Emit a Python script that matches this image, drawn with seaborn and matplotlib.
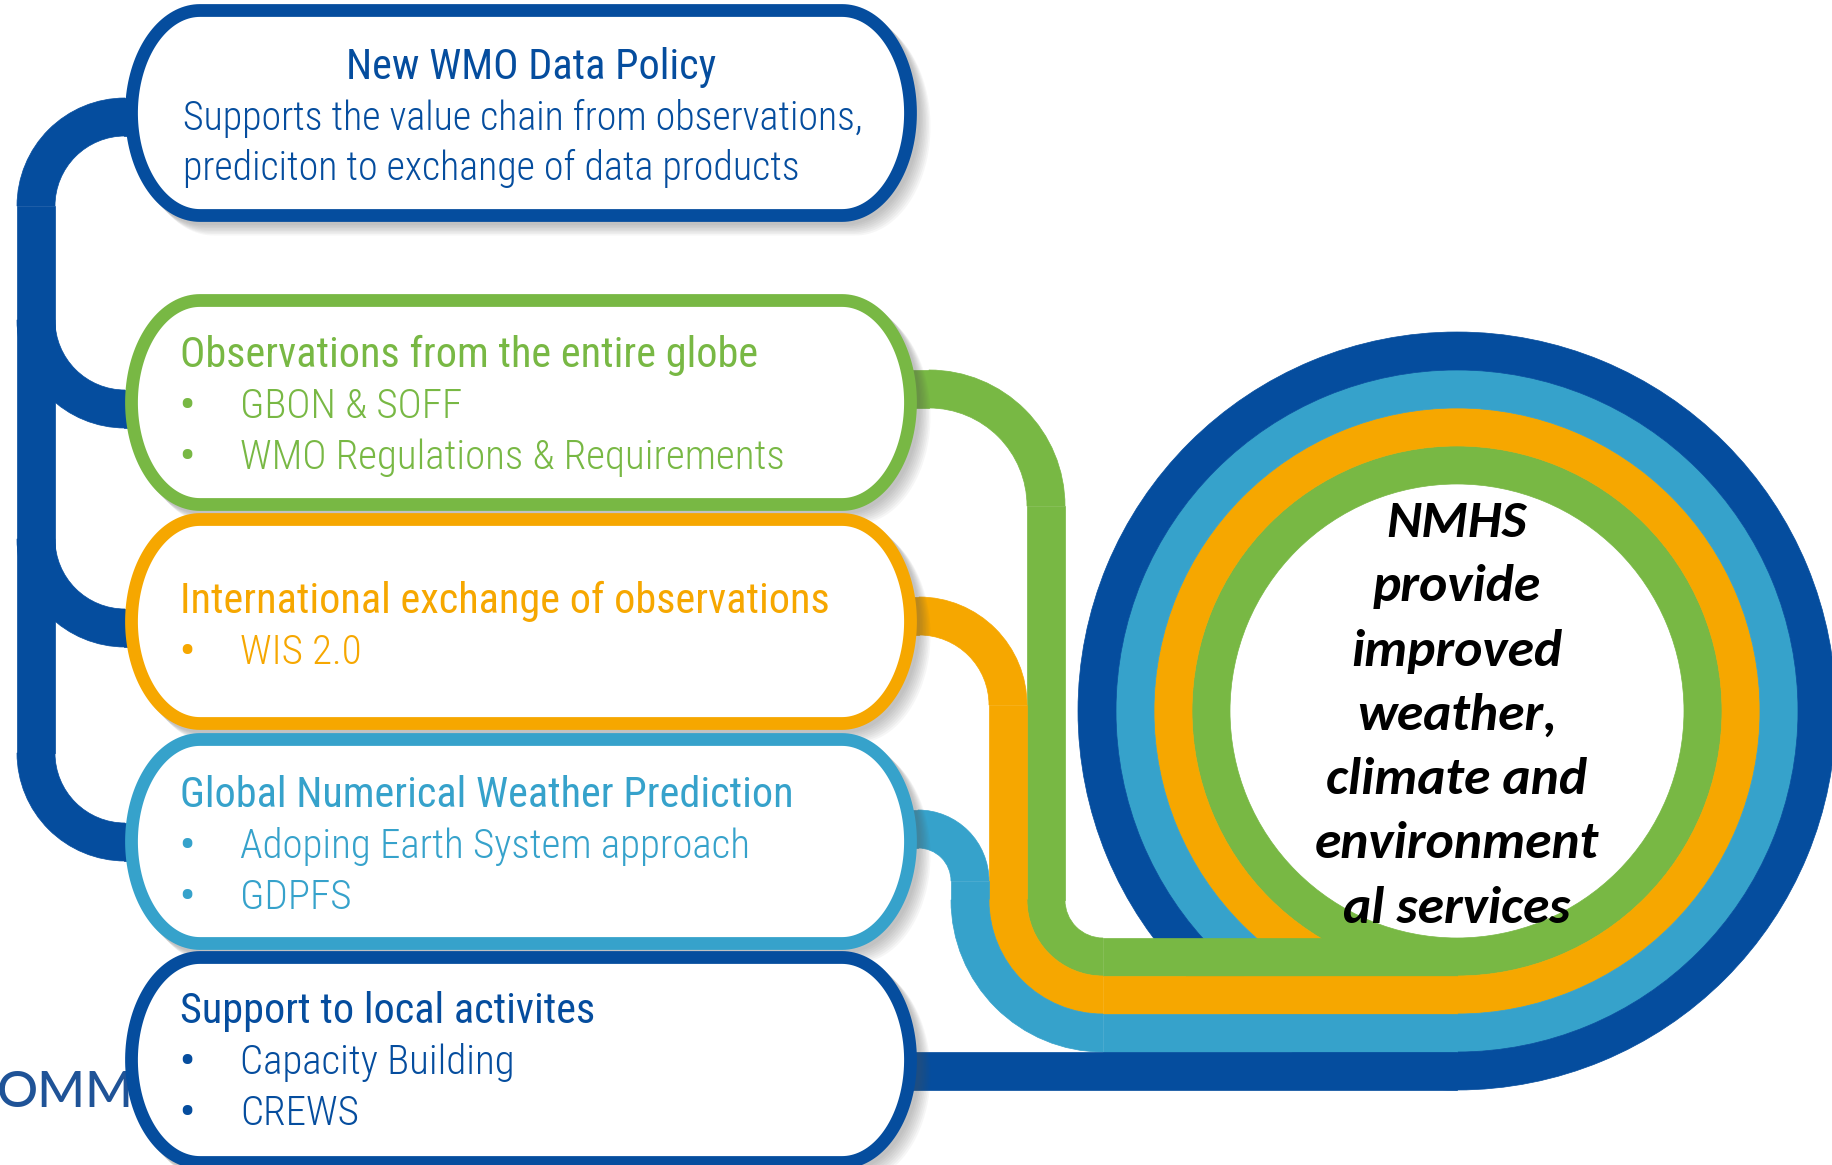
import numpy as np
import matplotlib
matplotlib.use("Agg")
import matplotlib.pyplot as plt
from matplotlib.patches import Wedge, Rectangle, Polygon
import seaborn as sns

sns.set_style("white")

# ---- content -------------------------------------------------------------
box_titles = ["New WMO Data Policy",
              "Observations from the entire globe",
              "International exchange of observations",
              "Global Numerical Weather Prediction",
              "Support to local activites"]
box_items = [["Supports the value chain from observations,",
              "prediciton to exchange of data products"],
             ["GBON & SOFF", "WMO Regulations & Requirements"],
             ["WIS 2.0"],
             ["Adoping Earth System approach", "GDPFS"],
             ["Capacity Building", "CREWS"]]
circle_lines = ["NMHS", "provide", "improved", "weather,",
                "climate and", "environment", "al services"]
logo_text = "OMM"

# ---- styling ---------------------------------------------------------------
navy, green, orange, sky = "#054D9E", "#78B844", "#F6A700", "#36A2CB"
box_colors = [navy, green, orange, sky, navy]
box_font = ["Roboto Condensed", "DejaVu Sans"]

W, H = 1832, 1165
fig = plt.figure(figsize=(W / 100, H / 100), dpi=100)
ax = fig.add_axes([0, 0, 1, 1])
ax.set_xlim(0, W)
ax.set_ylim(H, 0)
ax.axis("off")


def arc(c, r_in, r_out, t1, t2, color, z=1):
    ax.add_patch(Wedge(c, r_out, t1, t2, width=r_out - r_in,
                       facecolor=color, edgecolor=color, lw=0.5, zorder=z))


def band(x0, x1, y0, y1, color, z=1):
    ax.add_patch(Rectangle((x0, y0), x1 - x0, y1 - y0,
                           facecolor=color, edgecolor=color, lw=0.5, zorder=z))


def stadium(x0, x1, y0, y1, rx, n=80):
    ry = (y1 - y0) / 2
    yc = (y0 + y1) / 2
    t = np.linspace(np.pi / 2, 3 * np.pi / 2, n)
    left = np.column_stack([x0 + rx + rx * np.cos(t), yc + ry * np.sin(t)])
    t2 = np.linspace(-np.pi / 2, np.pi / 2, n)
    right = np.column_stack([x1 - rx + rx * np.cos(t2), yc + ry * np.sin(t2)])
    return np.vstack([left, right])


# ---- big spiral circle -------------------------------------------------------
cx, cy = 1457, 711
w = 38
r0 = 227
ring_colors = [green, orange, sky, navy]
for i, col in enumerate(ring_colors):
    arc((cx, cy), r0 + w * i, r0 + w * (i + 1), 0, 360, col)

# ---- connectors from boxes into the circle -----------------------------------
# green
band(880, 929, 370, 408, green)
arc((929, 506), 98, 136, 270, 360, green)
band(1027, 1065, 506, 900, green)
arc((1103, 900), 38, 76, 90, 180, green, z=2)
band(1103, cx, 938, 976, green, z=2)
# orange
band(880, 919, 597, 635, orange)
arc((919, 705), 70, 108, 270, 360, orange)
band(989, 1027, 705, 900, orange)
arc((1103, 900), 76, 114, 90, 180, orange, z=2)
band(1103, cx, 976, 1014, orange, z=2)
# sky blue
band(880, 918, 810, 848, sky)
arc((918, 881), 33, 71, 270, 360, sky)
band(951, 989, 881, 900, sky)
arc((1103, 900), 114, 152, 90, 180, sky, z=2)
band(1103, cx, 1014, 1052, sky, z=2)
# navy
band(880, cx, 1052, 1090, navy, z=2)

# ---- left tree -------------------------------------------------------------
band(17, 55, 206, 753, navy)
arc((125, 206), 70, 108, 180, 270, navy)
band(124, 150, 98, 136, navy)
for yb in [320, 539, 753]:
    arc((125, yb), 70, 108, 90, 180, navy)
    band(124, 150, yb + 70, yb + 108, navy)

# logo text partly hidden behind the last box
ax.text(-3, 1107, logo_text, color="#1F5397", fontsize=37,
        family=["Lato", "DejaVu Sans"], fontweight=500,
        va="baseline", ha="left", zorder=3)

# ---- boxes -----------------------------------------------------------------
box_tops = [4, 294, 513, 733, 951]
box_bots = [222, 511, 730, 950, 1169]
bx0, bx1, rx, b = 125, 917, 75, 6.5
for top, bot, col in zip(box_tops, box_bots, box_colors):
    outer = stadium(bx0, bx1, top, bot, rx)
    for k in range(8):
        d = 3 + 1.5 * k
        ax.add_patch(Polygon(outer + [d, d], closed=True, facecolor="#555555",
                             edgecolor="none", alpha=0.05, zorder=3))
    ax.add_patch(Polygon(stadium(bx0 + b, bx1 - b, top + b, bot - b, rx - b),
                         closed=True, facecolor="white", edgecolor=col,
                         lw=9.2, joinstyle="round", zorder=4))

# ---- box text --------------------------------------------------------------
head = dict(fontsize=30.4, family=box_font, fontweight=400, va="baseline", zorder=5)
body = dict(fontsize=29.5, family=box_font, fontweight=300, va="baseline", zorder=5)
dot = dict(fontsize=30, family=box_font, fontweight=700, va="baseline", zorder=5)

# first box: centered title, plain lines
ax.text(531, 79, box_titles[0], color=navy, ha="center", **head)
for j, line in enumerate(box_items[0]):
    ax.text(183, 130 + 50.5 * j, line, color=navy, ha="left",
            **{**body, "fontsize": 28.7})

title_base = [None, 367, 613, 807, 1023]
for i in range(1, 5):
    col = box_colors[i]
    ax.text(180, title_base[i], box_titles[i], color=col, ha="left", **head)
    for j, item in enumerate(box_items[i]):
        yb = title_base[i] + 51 * (j + 1)
        ax.text(187, yb, "\u2022", color=col, ha="center", **dot)
        ax.text(240, yb, item, color=col, ha="left", **body)

# ---- circle text -------------------------------------------------------------
for i, line in enumerate(circle_lines):
    ax.text(cx, 537 + 64.3 * i, line, color="black", fontsize=38.5,
            family=["Carlito", "DejaVu Sans"], fontweight="bold", fontstyle="italic",
            ha="center", va="baseline", zorder=6)

fig.savefig("out.png", dpi=100, facecolor="white")
